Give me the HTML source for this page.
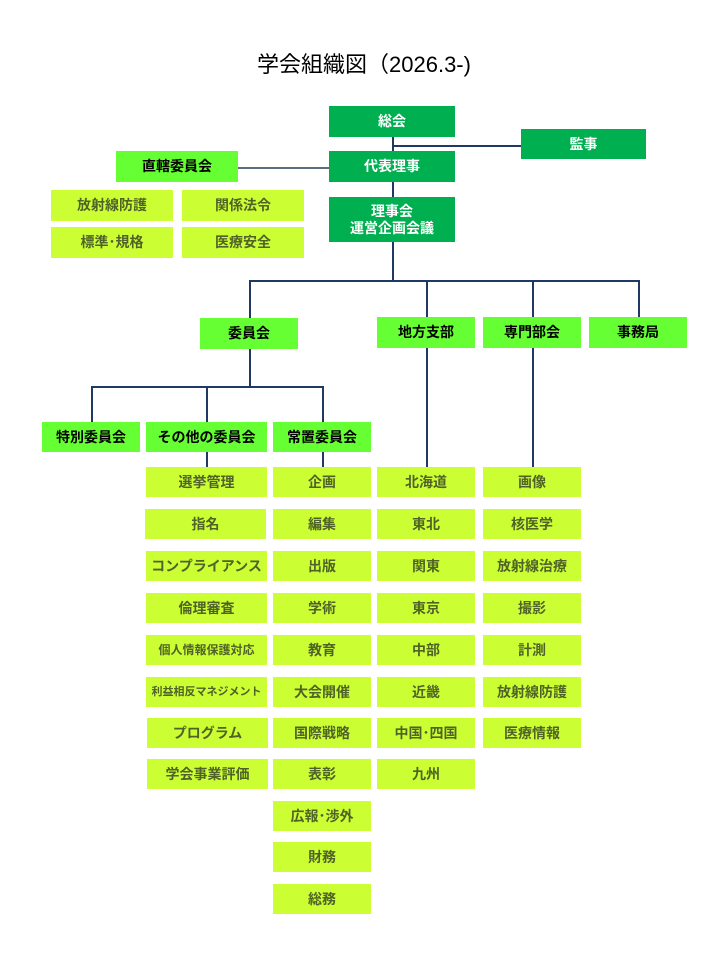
<!DOCTYPE html>
<html><head><meta charset="utf-8"><style>
body{margin:0;width:720px;height:960px;background:#fff;position:relative;font-family:"Liberation Sans","Noto Sans CJK JP",sans-serif;overflow:hidden}
.b{position:absolute;display:flex;align-items:center;justify-content:center;font-weight:bold;font-size:14px;text-align:center;line-height:17px}
.d{background:#00b050;color:#fff}
.l{background:#66ff33;color:#000}
.y{background:#ccff33;color:#4f6228}
.h{position:absolute;height:1.5px;background:#1f3864}
.v{position:absolute;width:1.5px;background:#1f3864}
.t{position:absolute;top:47px;left:0;width:728px;text-align:center;font-size:22px;color:#000}
</style></head><body>
<div class="t">学会組織図（2026.3-)</div>
<div class="v" style="left:392px;top:137px;height:143px"></div>
<div class="h" style="left:392px;top:145px;width:129px"></div>
<div class="h" style="left:238px;top:167px;width:91px;background:#5a6e84"></div>
<div class="h" style="left:249px;top:280px;width:390px"></div>
<div class="v" style="left:249px;top:280px;height:38px"></div>
<div class="v" style="left:426px;top:280px;height:37px"></div>
<div class="v" style="left:532px;top:280px;height:37px"></div>
<div class="v" style="left:638px;top:280px;height:37px"></div>
<div class="v" style="left:249px;top:349px;height:37px"></div>
<div class="h" style="left:91px;top:386px;width:232px"></div>
<div class="v" style="left:91px;top:386px;height:36px"></div>
<div class="v" style="left:206px;top:386px;height:36px"></div>
<div class="v" style="left:322px;top:386px;height:36px"></div>
<div class="v" style="left:206px;top:452px;height:15px"></div>
<div class="v" style="left:322px;top:452px;height:15px"></div>
<div class="v" style="left:426px;top:348px;height:119px"></div>
<div class="v" style="left:532px;top:348px;height:119px"></div>

<div class="b d" style="left:329px;top:106px;width:126px;height:31px">総会</div>
<div class="b d" style="left:521px;top:129px;width:125px;height:30px">監事</div>
<div class="b d" style="left:329px;top:151px;width:126px;height:31px">代表理事</div>
<div class="b l" style="left:116px;top:151px;width:122px;height:31px">直轄委員会</div>
<div class="b y" style="left:51px;top:190px;width:122px;height:31px">放射線防護</div>
<div class="b y" style="left:182px;top:190px;width:122px;height:31px">関係法令</div>
<div class="b y" style="left:51px;top:227px;width:122px;height:31px">標準･規格</div>
<div class="b y" style="left:182px;top:227px;width:122px;height:31px">医療安全</div>
<div class="b d" style="left:329px;top:197px;width:126px;height:45px">理事会<br>運営企画会議</div>

<div class="b l" style="left:200px;top:318px;width:98px;height:31px">委員会</div>
<div class="b l" style="left:377px;top:317px;width:98px;height:31px">地方支部</div>
<div class="b l" style="left:483px;top:317px;width:98px;height:31px">専門部会</div>
<div class="b l" style="left:589px;top:317px;width:98px;height:31px">事務局</div>

<div class="b l" style="left:42px;top:422px;width:98px;height:30px">特別委員会</div>
<div class="b l" style="left:146px;top:422px;width:121px;height:30px">その他の委員会</div>
<div class="b l" style="left:273px;top:422px;width:98px;height:30px">常置委員会</div>

<div class="b y" style="left:146px;top:467px;width:121px;height:30px">選挙管理</div>
<div class="b y" style="left:145px;top:509px;width:121px;height:30px">指名</div>
<div class="b y" style="left:146px;top:551px;width:121px;height:30px">コンプライアンス</div>
<div class="b y" style="left:146px;top:593px;width:121px;height:30px">倫理審査</div>
<div class="b y" style="left:146px;top:635px;width:121px;height:30px;font-size:12px">個人情報保護対応</div>
<div class="b y" style="left:146px;top:677px;width:121px;height:30px;font-size:11px">利益相反マネジメント</div>
<div class="b y" style="left:147px;top:718px;width:121px;height:30px">プログラム</div>
<div class="b y" style="left:147px;top:759px;width:121px;height:30px">学会事業評価</div>

<div class="b y" style="left:273px;top:467px;width:98px;height:30px">企画</div>
<div class="b y" style="left:273px;top:509px;width:98px;height:30px">編集</div>
<div class="b y" style="left:273px;top:551px;width:98px;height:30px">出版</div>
<div class="b y" style="left:273px;top:593px;width:98px;height:30px">学術</div>
<div class="b y" style="left:273px;top:635px;width:98px;height:30px">教育</div>
<div class="b y" style="left:273px;top:677px;width:98px;height:30px">大会開催</div>
<div class="b y" style="left:273px;top:718px;width:98px;height:30px">国際戦略</div>
<div class="b y" style="left:273px;top:759px;width:98px;height:30px">表彰</div>
<div class="b y" style="left:273px;top:801px;width:98px;height:30px">広報･渉外</div>
<div class="b y" style="left:273px;top:842px;width:98px;height:30px">財務</div>
<div class="b y" style="left:273px;top:884px;width:98px;height:30px">総務</div>

<div class="b y" style="left:377px;top:467px;width:98px;height:30px">北海道</div>
<div class="b y" style="left:377px;top:509px;width:98px;height:30px">東北</div>
<div class="b y" style="left:377px;top:551px;width:98px;height:30px">関東</div>
<div class="b y" style="left:377px;top:593px;width:98px;height:30px">東京</div>
<div class="b y" style="left:377px;top:635px;width:98px;height:30px">中部</div>
<div class="b y" style="left:377px;top:677px;width:98px;height:30px">近畿</div>
<div class="b y" style="left:377px;top:718px;width:98px;height:30px">中国･四国</div>
<div class="b y" style="left:377px;top:759px;width:98px;height:30px">九州</div>

<div class="b y" style="left:483px;top:467px;width:98px;height:30px">画像</div>
<div class="b y" style="left:483px;top:509px;width:98px;height:30px">核医学</div>
<div class="b y" style="left:483px;top:551px;width:98px;height:30px">放射線治療</div>
<div class="b y" style="left:483px;top:593px;width:98px;height:30px">撮影</div>
<div class="b y" style="left:483px;top:635px;width:98px;height:30px">計測</div>
<div class="b y" style="left:483px;top:677px;width:98px;height:30px">放射線防護</div>
<div class="b y" style="left:483px;top:718px;width:98px;height:30px">医療情報</div>
</body></html>
